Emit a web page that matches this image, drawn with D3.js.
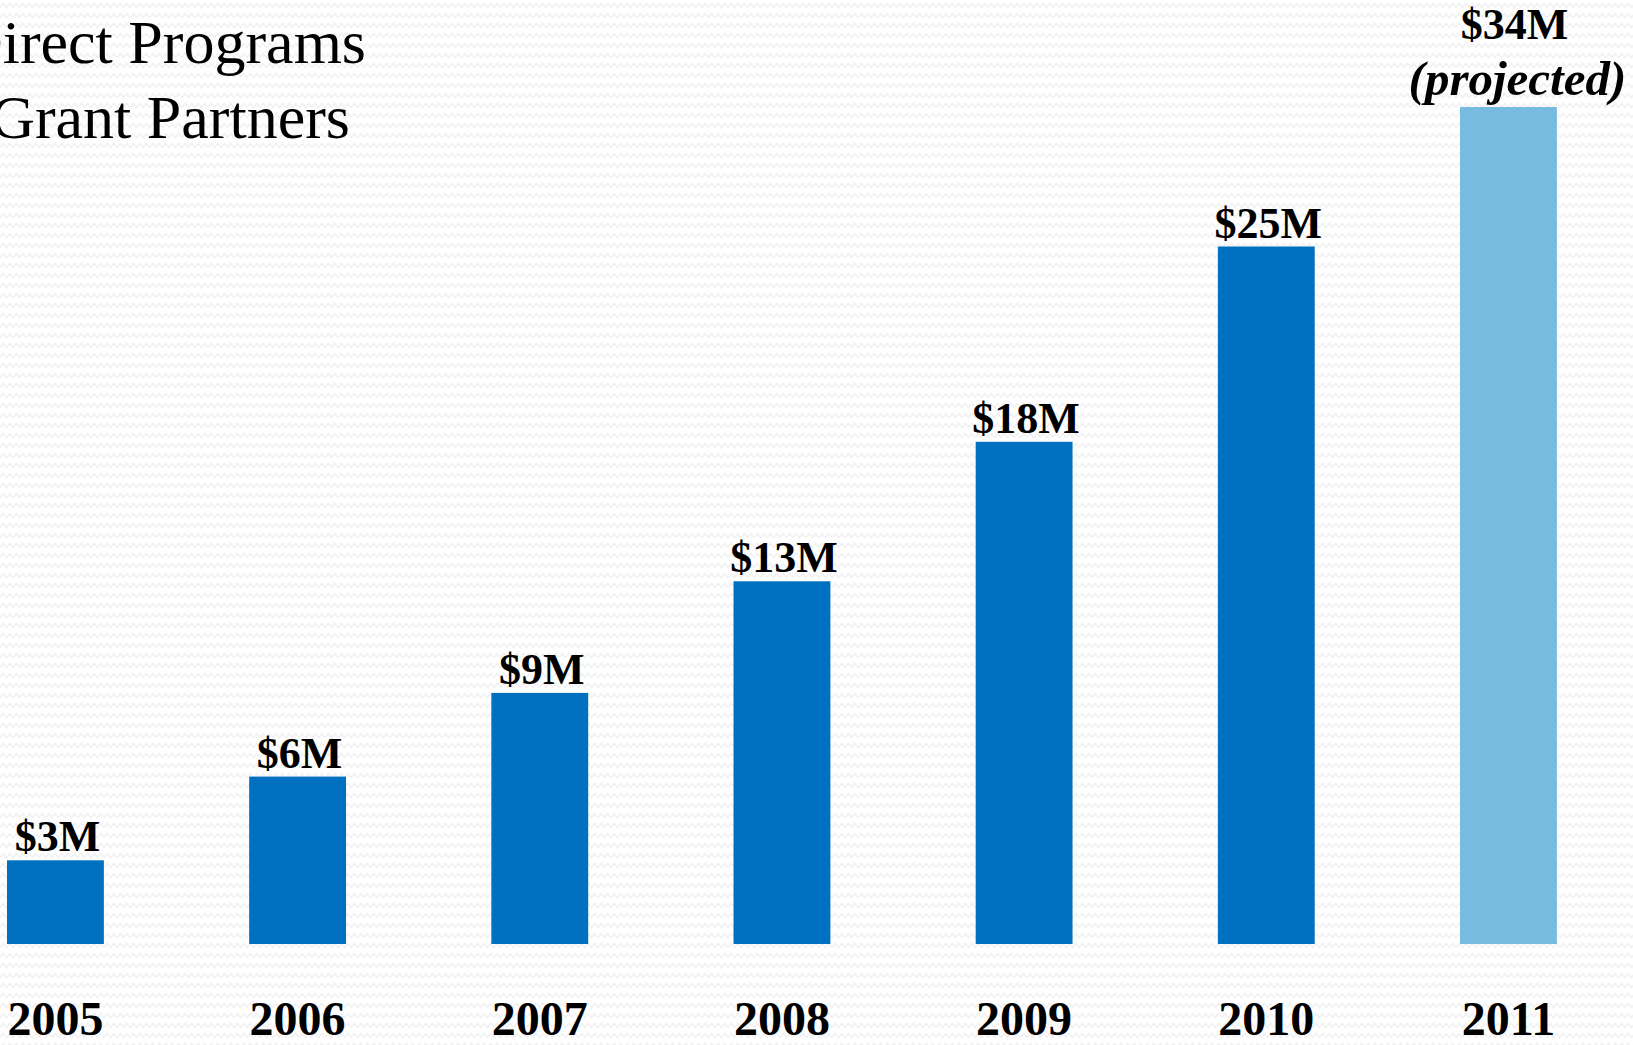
<!DOCTYPE html>
<html>
<head>
<meta charset="utf-8">
<script src="https://cdn.jsdelivr.net/npm/d3@7"></script>
<style>
  html, body { margin: 0; padding: 0; background: #ffffff; overflow: hidden; }
  svg { display: block; }
  text { font-family: "Liberation Serif", "Times New Roman", serif; fill: #000; }
</style>
</head>
<body>
<svg id="chart" width="1633" height="1045"></svg>
<script>
// ---- data ----
const years = ["2005", "2006", "2007", "2008", "2009", "2010", "2011"];
const values = [3, 6, 9, 13, 18, 25, 30];            // bar heights as drawn ($M)
const valueLabels = ["$3M", "$6M", "$9M", "$13M", "$18M", "$25M", "$34M"];
const projected = [false, false, false, false, false, false, true];
const titleLines = ["Direct Programs", "Grant Partners"];

const W = 1633, H = 1045;
const svg = d3.select("#chart");

// background zigzag pattern
const defs = svg.append("defs");
const pat = defs.append("pattern")
  .attr("id", "zig").attr("patternUnits", "userSpaceOnUse")
  .attr("width", 13).attr("height", 10);
pat.append("rect").attr("width", 13).attr("height", 10).attr("fill", "#ffffff");
pat.append("path")
  .attr("d", "M0,7.5 L3.25,3.5 L6.5,7.5 L9.75,3.5 L13,7.5")
  .attr("fill", "none").attr("stroke", "#f1f1f1").attr("stroke-width", 1.5);
svg.append("rect").attr("width", W).attr("height", H).attr("fill", "url(#zig)");

// scales
const step = 242.17;
const x = d3.scaleBand()
  .domain(years)
  .range([7 - 0.3 * step, 7 - 0.3 * step + 7 * step])
  .paddingInner(0.6)
  .paddingOuter(0.3);

const y = d3.scaleLinear().domain([0, 34]).range([944, 944 - 34 * 27.9]);

const data = years.map((yr, i) => ({ yr, v: values[i], label: valueLabels[i], proj: projected[i] }));

// bars
svg.append("g").selectAll("rect")
  .data(data).join("rect")
  .attr("x", d => x(d.yr))
  .attr("y", d => y(d.v))
  .attr("width", x.bandwidth())
  .attr("height", d => y(0) - y(d.v))
  .attr("fill", d => d.proj ? "#77BBE1" : "#0070C0");

// value labels
const lab = svg.append("g").selectAll("g")
  .data(data).join("g");
lab.append("text")
  .attr("x", d => x(d.yr) + x.bandwidth() / 2 + (d.proj ? 6 : 2))
  .attr("y", d => d.proj ? 39 : y(d.v) - 9)
  .attr("text-anchor", "middle")
  .attr("font-size", 44)
  .attr("font-weight", "bold")
  .text(d => d.label);
lab.filter(d => d.proj).append("text")
  .attr("x", d => x(d.yr) + x.bandwidth() / 2 + 9)
  .attr("y", 95)
  .attr("text-anchor", "middle")
  .attr("font-size", 49)
  .attr("font-weight", "bold")
  .attr("font-style", "italic")
  .text("(projected)");

// x axis labels
const xAxis = d3.axisBottom(x).tickSize(0).tickPadding(0);
const gx = svg.append("g").attr("transform", "translate(0,1035)").call(xAxis);
gx.select(".domain").remove();
gx.selectAll("text")
  .attr("dy", 0)
  .attr("y", 0)
  .attr("font-size", 48)
  .attr("font-weight", "bold")
  .attr("font-family", "Liberation Serif, Times New Roman, serif")
  .attr("fill", "#000");

// title (clipped at left edge, as in the reference)
svg.append("g").selectAll("text")
  .data(titleLines).join("text")
  .attr("x", (d, i) => i === 0 ? 366 : 350)
  .attr("y", (d, i) => i === 0 ? 63 : 138)
  .attr("text-anchor", "end")
  .attr("font-size", 62)
  .text(d => d);
</script>
</body>
</html>
